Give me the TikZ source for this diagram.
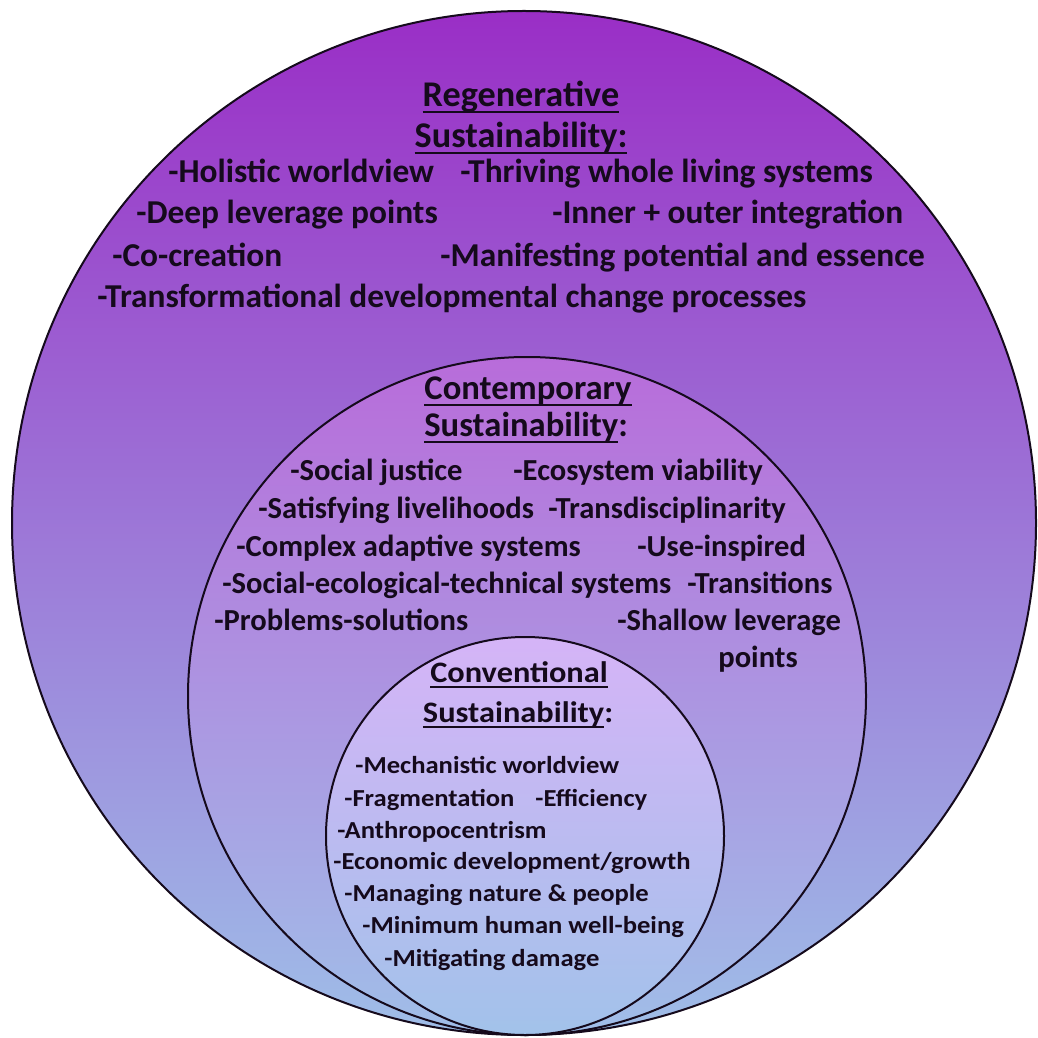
\documentclass[tikz,border=0pt]{standalone}
\usepackage{fontspec}
\setmainfont{Carlito}
\newfontfamily\widefont[FakeStretch=1.09]{Carlito}
\newcommand{\heavyul}[1]{\leavevmode\setbox0=\hbox{#1}\rlap{\rule[-.2em]{\wd0}{1.3pt}}\box0}

\definecolor{regTop}{HTML}{9A2EC6}
\definecolor{regBot}{HTML}{9FBEE8}
\definecolor{conTop}{HTML}{B86CDA}
\definecolor{conBot}{HTML}{A0BEE8}
\definecolor{cvnTop}{HTML}{D5B4F7}
\definecolor{cvnBot}{HTML}{A2C2EA}
\definecolor{ink}{HTML}{150A1C}

\tikzset{
  ring/.style = {draw = ink, line width = .4mm},
  regtxt/.style = {anchor = mid west, inner sep = 0pt, text = ink, font = \fontsize{19}{23}\selectfont\bfseries},
  contxt/.style = {anchor = mid west, inner sep = 0pt, text = ink, font = \fontsize{17.4}{21}\selectfont\bfseries},
  cvntxt/.style = {anchor = mid west, inner sep = 0pt, text = ink, font = \widefont\fontsize{13.9}{17}\selectfont\bfseries},
  reghead/.style = {regtxt, anchor = mid, font = \fontsize{20.6}{24}\selectfont\bfseries},
  conhead/.style = {contxt, anchor = mid, font = \fontsize{19.7}{23}\selectfont\bfseries},
  cvnhead/.style = {cvntxt, anchor = mid, font = \widefont\fontsize{16.9}{20}\selectfont\bfseries}
}

\begin{document}
\begin{tikzpicture}[x = .2mm, y = -.2mm]
\useasboundingbox (0,0) rectangle (1038,1038);

% the three rings, all touching at the bottom
\shadedraw[ring, top color = regTop, bottom color = regBot] (524,523) circle [radius = 512];
\shadedraw[ring, top color = conTop, bottom color = conBot] (527,696) circle [radius = 339];
\shadedraw[ring, top color = cvnTop, bottom color = cvnBot] (525,836) circle [radius = 199];

% regenerative
\node[reghead] (regA) at (521,102) {\heavyul{Regenerative}};
\node[reghead] (regB) at (521,143) {\heavyul{Sustainability:}};
\node[regtxt] (reg1) at (168,178) {-Holistic worldview};
\node[regtxt] (reg2) at (460,178) {-Thriving whole living systems};
\node[regtxt] (reg3) at (136,219) {-Deep leverage points};
\node[regtxt] (reg4) at (552,219) {-Inner + outer integration};
\node[regtxt] (reg5) at (112,262) {-Co-creation};
\node[regtxt] (reg6) at (440,262) {-Manifesting potential and essence};
\node[regtxt] (reg7) at (97,303) {-Transformational developmental change processes};

% contemporary
\node[conhead] (conA) at (528,395) {\heavyul{Contemporary}};
\node[conhead] (conB) at (526,432) {\heavyul{Sustainability}:};
\node[contxt] (con1) at (290,476) {-Social justice};
\node[contxt] (con2) at (513,476) {-Ecosystem viability};
\node[contxt] (con3) at (258,514) {-Satisfying livelihoods};
\node[contxt] (con4) at (548,514) {-Transdisciplinarity};
\node[contxt] (con5) at (236,552) {-Complex adaptive systems};
\node[contxt] (con6) at (637,552) {-Use-inspired};
\node[contxt] (con7) at (222,589) {-Social-ecological-technical systems};
\node[contxt] (con8) at (687,589) {-Transitions};
\node[contxt] (con9) at (214,626) {-Problems-solutions};
\node[contxt] (con10) at (617,626) {-Shallow leverage};
\node[contxt, anchor = mid] (con11) at (758,663) {points};

% conventional
\node[cvnhead] (cvnA) at (519,678) {\heavyul{Conventional}};
\node[cvnhead] (cvnB) at (518,718) {\heavyul{Sustainability}:};
\node[cvntxt] (cvn1) at (355,769) {-Mechanistic worldview};
\node[cvntxt] (cvn2) at (344,802) {-Fragmentation};
\node[cvntxt] (cvn3) at (535,802) {-Efficiency};
\node[cvntxt] (cvn4) at (337,834) {-Anthropocentrism};
\node[cvntxt] (cvn5) at (333,865) {-Economic development/growth};
\node[cvntxt] (cvn6) at (344,897) {-Managing nature \& people};
\node[cvntxt] (cvn7) at (362,929) {-Minimum human well-being};
\node[cvntxt] (cvn8) at (384,962) {-Mitigating damage};
\end{tikzpicture}
\end{document}
